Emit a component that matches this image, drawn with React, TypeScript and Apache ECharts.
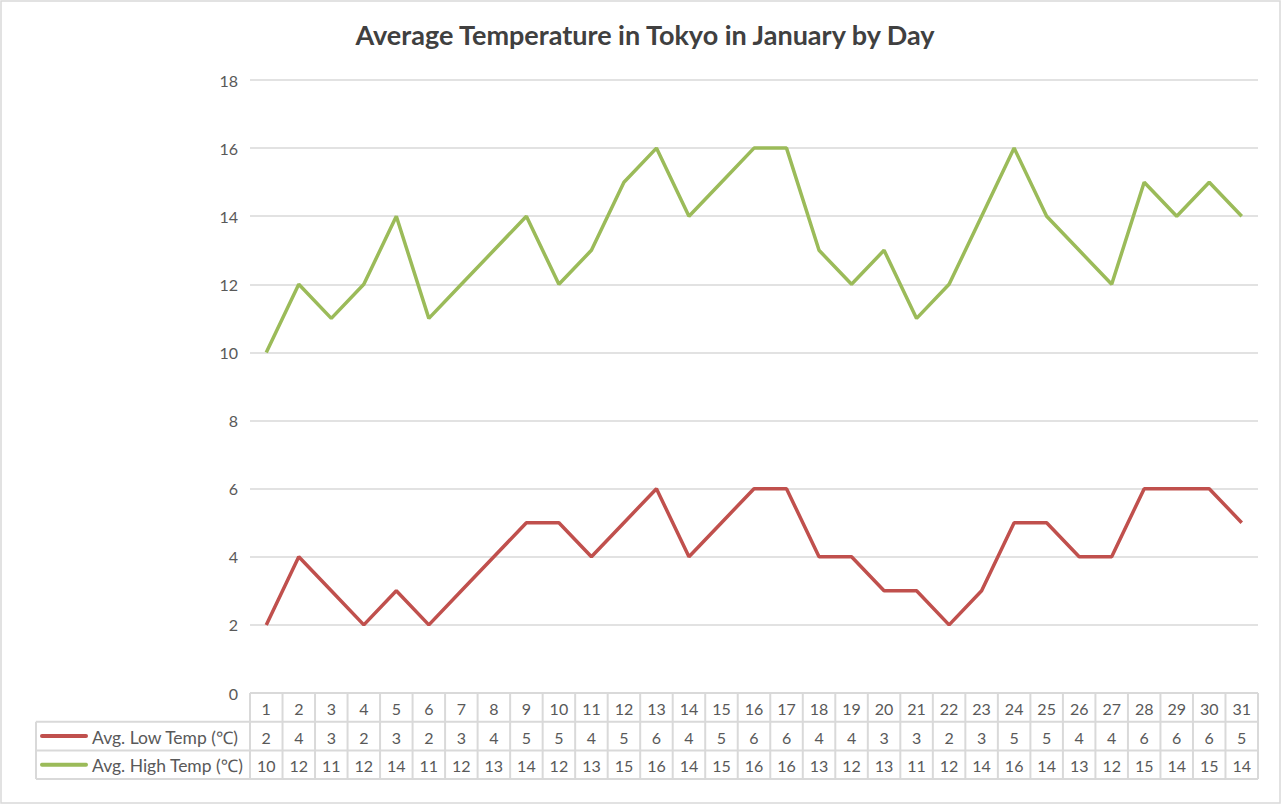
import React, { useEffect, useRef } from "react";
import * as echarts from "echarts";

const days = Array.from({ length: 31 }, (_, i) => String(i + 1));
const lowTemps = [2, 4, 3, 2, 3, 2, 3, 4, 5, 5, 4, 5, 6, 4, 5, 6, 6, 4, 4, 3, 3, 2, 3, 5, 5, 4, 4, 6, 6, 6, 5];
const highTemps = [10, 12, 11, 12, 14, 11, 12, 13, 14, 12, 13, 15, 16, 14, 15, 16, 16, 13, 12, 13, 11, 12, 14, 16, 14, 13, 12, 15, 14, 15, 14];
const seriesNames = ["Avg. Low Temp (℃)", "Avg. High Temp (℃)"];
const seriesColors = ["#c0504d", "#9bbb59"];
const yTicks = { min: 0, max: 18, interval: 2 };

const W = 1283;
const H = 805;
const PLOT_L = 250;
const PLOT_R = 1258;
const PLOT_T = 80;
const PLOT_B = 693;
const ROW_H = 28.7;
const LEGEND_L = 36;
const FONT = "Lato, 'Noto Sans', sans-serif";
const TEXT_COLOR = "#595959";
const BORDER = "#d9d9d9";

export default function App() {
  const ref = useRef<HTMLDivElement>(null);
  useEffect(() => {
    if (!ref.current) return;
    const chart = echarts.init(ref.current, undefined, { renderer: "svg" });
    const colW = (PLOT_R - PLOT_L) / days.length;
    const graphic: any[] = [];
    graphic.push({
      type: "rect",
      shape: { x: 1, y: 1, width: W - 4, height: H - 3 },
      style: { fill: "none", stroke: BORDER, lineWidth: 1.5 },
      silent: true,
    });
    const rowsY = [PLOT_B, PLOT_B + ROW_H, PLOT_B + 2 * ROW_H, PLOT_B + 3 * ROW_H];
    const lineStyle = { stroke: BORDER, lineWidth: 2 };
    graphic.push({ type: "line", shape: { x1: PLOT_L, y1: rowsY[0], x2: PLOT_R, y2: rowsY[0] }, style: lineStyle });
    for (let r = 1; r < 4; r++) {
      graphic.push({ type: "line", shape: { x1: LEGEND_L, y1: rowsY[r], x2: PLOT_R, y2: rowsY[r] }, style: lineStyle });
    }
    graphic.push({ type: "line", shape: { x1: LEGEND_L, y1: rowsY[1], x2: LEGEND_L, y2: rowsY[3] }, style: lineStyle });
    for (let c = 0; c <= days.length; c++) {
      const x = PLOT_L + c * colW;
      graphic.push({ type: "line", shape: { x1: x, y1: rowsY[0], x2: x, y2: rowsY[3] }, style: lineStyle });
    }
    const rows = [days, lowTemps.map(String), highTemps.map(String)];
    rows.forEach((row, r) => {
      row.forEach((v, c) => {
        graphic.push({
          type: "text",
          x: PLOT_L + (c + 0.5) * colW,
          y: (rowsY[r] + rowsY[r + 1]) / 2 + 1,
          style: { text: v, fill: TEXT_COLOR, font: `16px ${FONT}`, align: "center", verticalAlign: "middle" },
        });
      });
    });
    seriesNames.forEach((name, i) => {
      const cy = (rowsY[i + 1] + rowsY[i + 2]) / 2;
      graphic.push({
        type: "line",
        shape: { x1: 42, y1: cy, x2: 86, y2: cy },
        style: { stroke: seriesColors[i], lineWidth: 4, lineCap: "round" },
      });
      graphic.push({
        type: "text",
        x: 92,
        y: cy + 1,
        style: { text: name, fill: TEXT_COLOR, font: `17.5px ${FONT}`, align: "left", verticalAlign: "middle" },
      });
    });

    chart.setOption({
      animation: false,
      backgroundColor: "#ffffff",
      title: {
        text: "Average Temperature in Tokyo in January by Day",
        left: 640,
        top: 16,
        textAlign: "center",
        textStyle: { fontFamily: FONT, fontSize: 27, fontWeight: "bold", color: "#404040" },
      },
      grid: { left: PLOT_L, right: W - PLOT_R, top: PLOT_T, bottom: H - PLOT_B, containLabel: false },
      xAxis: {
        type: "category",
        data: days,
        boundaryGap: true,
        axisLine: { show: false },
        axisTick: { show: false },
        axisLabel: { show: false },
      },
      yAxis: {
        type: "value",
        min: yTicks.min,
        max: yTicks.max,
        interval: yTicks.interval,
        axisLine: { show: false },
        axisTick: { show: false },
        axisLabel: { color: TEXT_COLOR, fontFamily: FONT, fontSize: 16, margin: 12 },
        splitLine: { lineStyle: { color: BORDER, width: 1.5 } },
      },
      series: [
        {
          name: seriesNames[0],
          type: "line",
          data: lowTemps,
          symbol: "none",
          lineStyle: { color: seriesColors[0], width: 3.5 },
          itemStyle: { color: seriesColors[0] },
        },
        {
          name: seriesNames[1],
          type: "line",
          data: highTemps,
          symbol: "none",
          lineStyle: { color: seriesColors[1], width: 3.5 },
          itemStyle: { color: seriesColors[1] },
        },
      ],
      graphic,
    });
    return () => chart.dispose();
  }, []);
  return <div ref={ref} style={{ position: "absolute", left: 0, top: 0, width: W, height: H }} />;
}
